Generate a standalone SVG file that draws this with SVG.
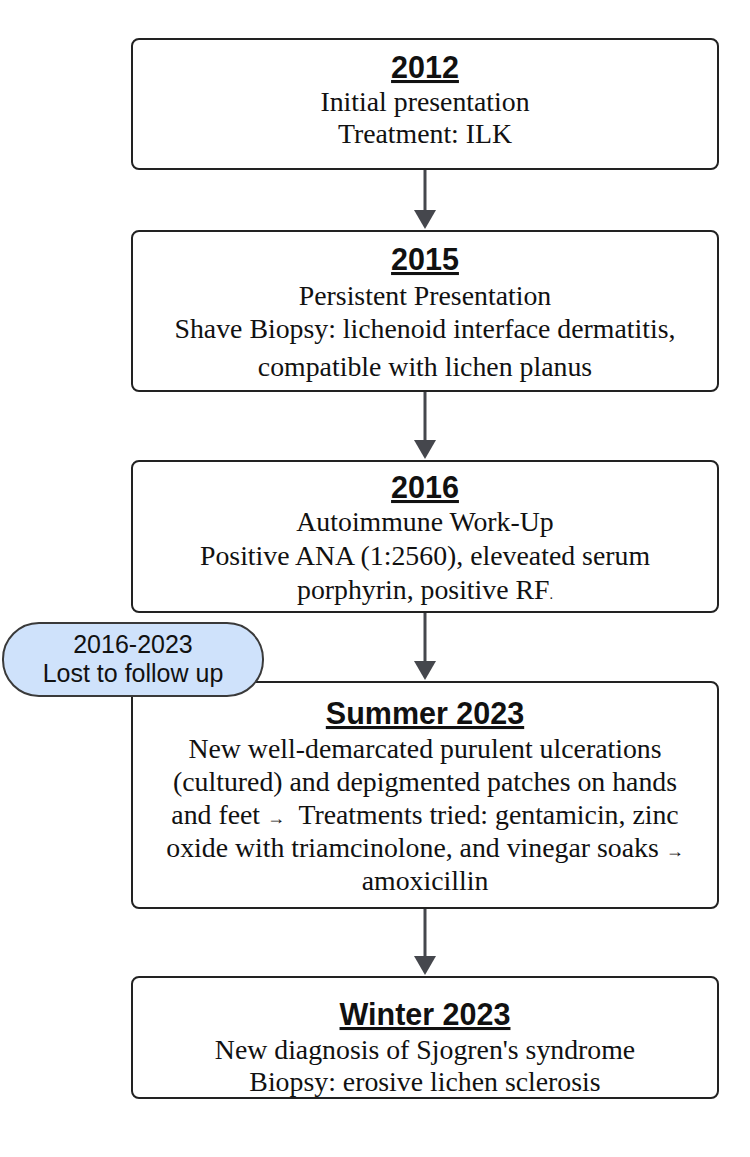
<svg xmlns="http://www.w3.org/2000/svg" width="750" height="1157" viewBox="0 0 750 1157">
<style>
.box{fill:#fff;stroke:#222;stroke-width:2}
.pill{fill:#cfe2fb;stroke:#3a3a3a;stroke-width:2}
.t{font-family:"Liberation Sans",Arial,sans-serif;font-weight:bold;font-size:30.5px;text-decoration:underline;fill:#111;text-anchor:middle}
.b{font-family:"Liberation Serif","Times New Roman",serif;font-size:27.8px;fill:#111;text-anchor:middle}
.p{font-family:"Liberation Sans",Arial,sans-serif;font-size:25px;fill:#111;text-anchor:middle}
.c{stroke:#45474d;stroke-width:3;fill:none}
.ah{fill:#45474d}
</style>
<g id="connectors">
<line class="c" x1="425" y1="169" x2="425" y2="212"/>
<path class="ah" d="M414,210 L436,210 L425,229 z"/>
<line class="c" x1="425" y1="391" x2="425" y2="442"/>
<path class="ah" d="M414,440 L436,440 L425,459 z"/>
<line class="c" x1="425" y1="612" x2="425" y2="663"/>
<path class="ah" d="M414,661 L436,661 L425,680 z"/>
<line class="c" x1="425" y1="908" x2="425" y2="958"/>
<path class="ah" d="M414,956 L436,956 L425,975 z"/>
</g>
<g id="n2012">
<rect class="box" x="132" y="39" width="586" height="130" rx="7"/>
<text class="t" x="425" y="78">2012</text>
<text class="b" x="425" y="111">Initial presentation</text>
<text class="b" x="425" y="143">Treatment: ILK</text>
</g>
<g id="n2015">
<rect class="box" x="132" y="231" width="586" height="160" rx="7"/>
<text class="t" x="425" y="270">2015</text>
<text class="b" x="425" y="305">Persistent Presentation</text>
<text class="b" x="425" y="338">Shave Biopsy: lichenoid interface dermatitis,</text>
<text class="b" x="425" y="376">compatible with lichen planus</text>
</g>
<g id="n2016">
<rect class="box" x="132" y="461" width="586" height="151" rx="7"/>
<text class="t" x="425" y="498">2016</text>
<text class="b" x="425" y="531">Autoimmune Work-Up</text>
<text class="b" x="425" y="565">Positive ANA (1:2560), eleveated serum</text>
<text class="b" x="425" y="599">porphyrin, positive RF<tspan font-size="14">.</tspan></text>
</g>
<g id="nsummer">
<rect class="box" x="132" y="682" width="586" height="226" rx="7"/>
<text class="t" x="425" y="724">Summer 2023</text>
<text class="b" x="425" y="758">New well-demarcated purulent ulcerations</text>
<text class="b" x="425" y="791">(cultured) and depigmented patches on hands</text>
<text class="b" x="425" y="824" xml:space="preserve">and feet <tspan font-size="18">→</tspan>  Treatments tried: gentamicin, zinc</text>
<text class="b" x="425" y="857">oxide with triamcinolone, and vinegar soaks <tspan font-size="18">→</tspan></text>
<text class="b" x="425" y="890">amoxicillin</text>
</g>
<g id="nlost">
<rect class="pill" x="3" y="623" width="260" height="73" rx="36"/>
<text class="p" x="133" y="653">2016-2023</text>
<text class="p" x="133" y="682">Lost to follow up</text>
</g>
<g id="nwinter">
<rect class="box" x="132" y="977" width="586" height="121" rx="7"/>
<text class="t" x="425" y="1025">Winter 2023</text>
<text class="b" x="425" y="1059">New diagnosis of Sjogren's syndrome</text>
<text class="b" x="425" y="1091">Biopsy: erosive lichen sclerosis</text>
</g>
</svg>
